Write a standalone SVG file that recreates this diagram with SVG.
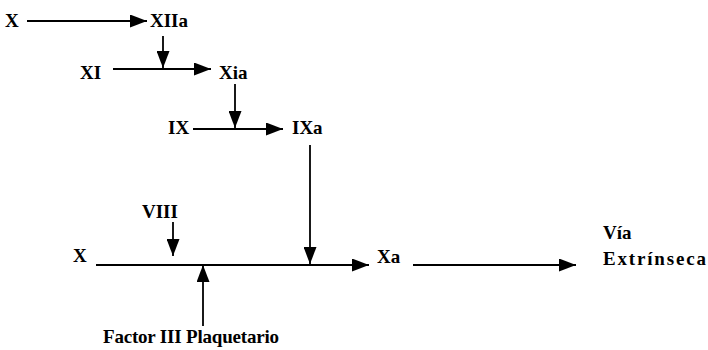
<svg xmlns="http://www.w3.org/2000/svg" width="708" height="350" viewBox="0 0 708 350">
<defs>
<style>
.t{font-weight:bold;font-size:19px;fill:#000}
.c line{stroke:#000;stroke-width:1.8;fill:none}
</style>
<marker id="ah" viewBox="0 0 17 13" refX="17" refY="6.5" markerWidth="17" markerHeight="13" markerUnits="userSpaceOnUse" orient="auto">
<path d="M0,0 L17,6.5 L0,13 Z" fill="#000"/>
</marker>
</defs>
<rect width="708" height="350" fill="#fff"/>
<g class="t" font-family="Liberation Serif, Times New Roman, serif">
<g id="n-X1"><text x="5" y="27">X</text></g>
<g id="n-XIIa"><text x="150" y="27">XIIa</text></g>
<g id="n-XI"><text x="80" y="79">XI</text></g>
<g id="n-Xia"><text x="219" y="79">Xia</text></g>
<g id="n-IX"><text x="168" y="134">IX</text></g>
<g id="n-IXa"><text x="292" y="134">IXa</text></g>
<g id="n-VIII"><text x="142" y="218">VIII</text></g>
<g id="n-X2"><text x="73" y="262">X</text></g>
<g id="n-Xa"><text x="377" y="263">Xa</text></g>
<g id="n-via"><text x="603" y="239">Vía</text><text x="603" y="265" textLength="103" lengthAdjust="spacing">Extrínseca</text></g>
<g id="n-factor"><text x="103" y="343" textLength="176" lengthAdjust="spacing">Factor III Plaquetario</text></g>
</g>
<g class="c" id="connectors">
<line x1="27" y1="21" x2="147" y2="21" marker-end="url(#ah)"/>
<line x1="163" y1="36" x2="163" y2="68" marker-end="url(#ah)"/>
<line x1="113" y1="69" x2="211" y2="69" marker-end="url(#ah)"/>
<line x1="235" y1="84" x2="235" y2="128" marker-end="url(#ah)"/>
<line x1="193" y1="129" x2="283" y2="129" marker-end="url(#ah)"/>
<line x1="310" y1="145" x2="310" y2="264" marker-end="url(#ah)"/>
<line x1="173" y1="222" x2="173" y2="256" marker-end="url(#ah)"/>
<line x1="96" y1="265" x2="369" y2="265" marker-end="url(#ah)"/>
<line x1="203" y1="326" x2="203" y2="265" marker-end="url(#ah)"/>
<line x1="413" y1="265" x2="576" y2="265" marker-end="url(#ah)"/>
</g>
</svg>
